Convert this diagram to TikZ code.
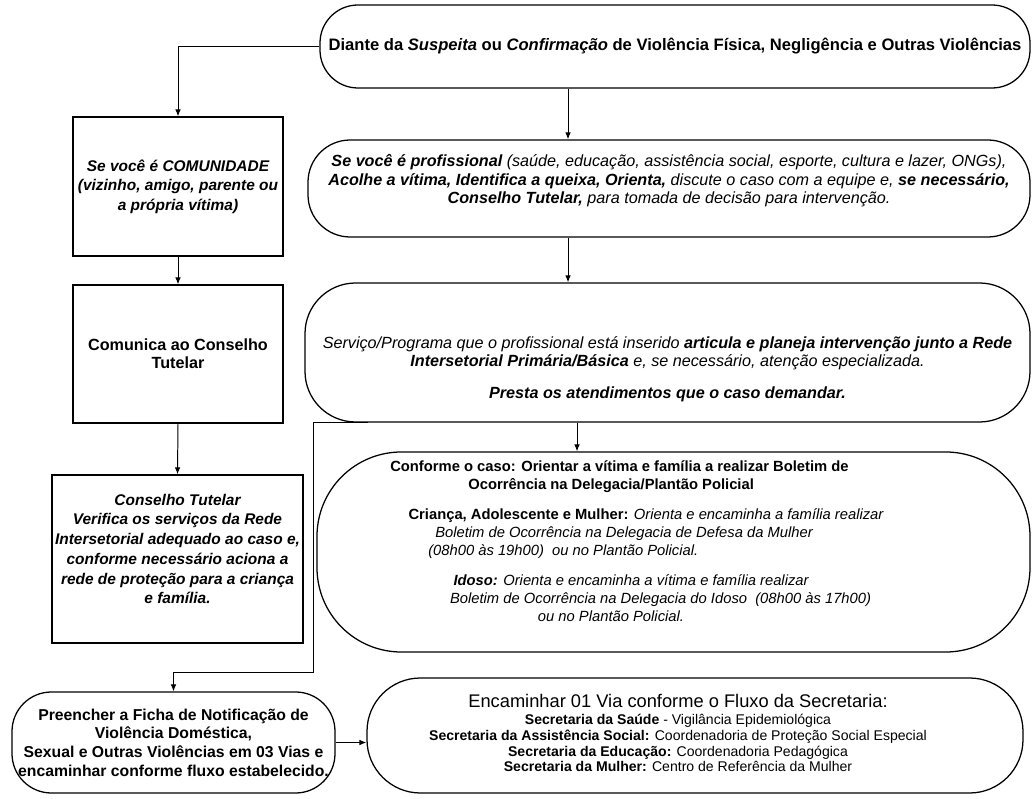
\documentclass[tikz,border=0pt]{standalone}
\usepackage{fontspec}
\setmainfont{Liberation Sans}
\usetikzlibrary{arrows.meta,positioning}

\newcommand{\pxl}{0.025cm}
\newcommand{\fs}[2]{\fontsize{#1}{#2}\selectfont}

\begin{document}
\begin{tikzpicture}[x=0.025cm, y=-0.025cm,
  sqbox/.style={draw, line width=0.9pt, align=center, inner sep=0pt},
  rdbox/.style={sqbox, rounded corners=#1},
  txt/.style={align=center, inner sep=0pt},
  arr/.style={line width=0.7pt, -{Latex[length=5pt,width=4pt]}}]
 \useasboundingbox (0,0) rectangle (1034,799);
 \coordinate (midA) at (568,0);
 \coordinate (midB) at (577,0);
 \coordinate (tap) at (368,0);
 \coordinate (drop) at (313,672);

 % top
 \node[rdbox=27pt, minimum width=710*\pxl, minimum height=83*\pxl, font=\fs{11.8}{14}\bfseries] (top) at (675,46.5)
  {Diante da \textit{Suspeita} ou \textit{Confirmação} de Violência Física, Negligência e Outras Violências};

 % left column
 \node[sqbox, minimum width=210*\pxl, minimum height=139*\pxl, font=\fs{11}{13.9}\bfseries\itshape] (comu) at (178,186.5)
  {Se você é COMUNIDADE\\(vizinho, amigo, parente ou\\a própria vítima)};
 \node[sqbox, minimum width=210*\pxl, minimum height=138*\pxl, font=\fs{11.5}{12.5}\bfseries] (liga) at (178,354)
  {Comunica ao Conselho\\Tutelar};
 \node[sqbox, minimum width=251*\pxl, minimum height=168*\pxl] (ct) at (177.5,559) {};
 \node[txt, font=\fs{11}{14}\bfseries\itshape] (cttxt) at (177.5,549)
  {Conselho Tutelar\\Verifica os serviços da Rede\\Intersetorial adequado ao caso e,\\conforme necessário aciona a\\rede de proteção para a criança\\e família.};

 % middle column
 \node[rdbox=30pt, minimum width=722*\pxl, minimum height=97*\pxl] (prof) at (669,188.5) {};
 \node[txt, font=\fs{11.5}{13.2}\itshape] (proftxt) at (669,181)
  {\textbf{Se você é profissional} (saúde, educação, assistência social, esporte, cultura e lazer, ONGs),\\
   \textbf{Acolhe a vítima, Identifica a queixa, Orienta,} discute o caso com a equipe e, \textbf{se necessário,}\\
   \textbf{Conselho Tutelar,} para tomada de decisão para intervenção.};

 \node[rdbox=36pt, minimum width=725*\pxl, minimum height=139*\pxl] (serv) at (667.5,352.5) {};
 \node[txt, font=\fs{11.5}{12.8}\itshape] (servtxt) at (667.5,369)
  {Serviço/Programa que o profissional está inserido \textbf{articula e planeja intervenção junto a Rede}\\
   \textbf{Intersetorial Primária/Básica} e, se necessário, atenção especializada.\\[10pt]
   \textbf{Presta os atendimentos que o caso demandar.}};

 \node[rdbox=60pt, minimum width=713*\pxl, minimum height=200*\pxl] (conf) at (673.5,552) {};
 \node[txt, align=left, anchor=west, font=\fs{10.5}{12.6}] (conftxt) at (390,541)
  {\textbf{Conforme o caso: Orientar a vítima e família a realizar Boletim de}\\
   \hspace*{55.5pt}\textbf{Ocorrência na Delegacia/Plantão Policial}\\[9pt]
   \hspace*{13pt}\textbf{Criança, Adolescente e Mulher:} \textit{Orienta e encaminha a família realizar}\\
   \hspace*{32pt}\textit{Boletim de Ocorrência na Delegacia de Defesa da Mulher}\\
   \hspace*{27pt}\textit{(08h00 às 19h00)\ \ ou no Plantão Policial.}\\[9pt]
   \hspace*{45pt}\textit{\textbf{Idoso:} Orienta e encaminha a vítima e família realizar}\\
   \hspace*{42.5pt}\textit{Boletim de Ocorrência na Delegacia do Idoso\ \ (08h00 às 17h00)}\\
   \hspace*{105pt}\textit{ou no Plantão Policial.}};

 % bottom row
 \node[rdbox=28pt, minimum width=323*\pxl, minimum height=101*\pxl, font=\fs{11.2}{13.3}\bfseries] (fich) at (173.5,742.5)
  {Preencher a Ficha de Notificação de\\Violência Doméstica,\\Sexual e Outras Violências em 03 Vias e\\encaminhar conforme fluxo estabelecido.};
 \node[rdbox=38pt, minimum width=656*\pxl, minimum height=115*\pxl] (enc) at (695,735.5) {};
 \node[txt, font=\fs{10}{11.2}] (enctxt) at (678,733)
  {{\fs{13}{15}Encaminhar 01 Via conforme o Fluxo da Secretaria:}\\[1pt]
   \textbf{Secretaria da Saúde} - Vigilância Epidemiológica\\
   \textbf{Secretaria da Assistência Social:} Coordenadoria de Proteção Social Especial\\
   \textbf{Secretaria da Educação:} Coordenadoria Pedagógica\\
   \textbf{Secretaria da Mulher:} Centro de Referência da Mulher};

 % connectors
 \draw[arr] (top.west) -| (comu.north);
 \draw[arr] (comu.south) -- (liga.north);
 \draw[arr] (liga.south) -- (ct.north);
 \draw[arr] (midA |- top.south) -- (midA |- prof.north);
 \draw[arr] (midA |- prof.south) -- (midA |- serv.north);
 \draw[arr] (midB |- serv.south) -- (midB |- conf.north);
 \draw[arr] (tap |- serv.south) -| (drop) -| (fich.north);
 \draw[arr] (fich.east) -- (fich.east -| enc.west);
\end{tikzpicture}
\end{document}
